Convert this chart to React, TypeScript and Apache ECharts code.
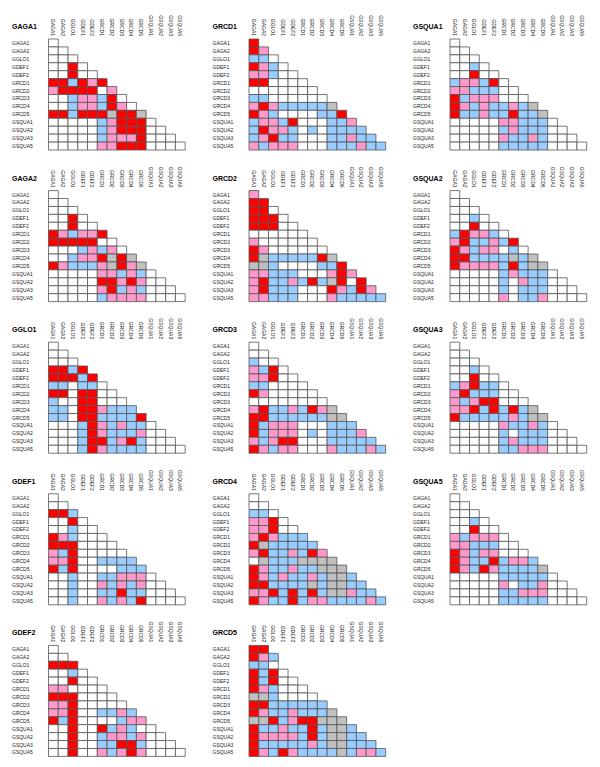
import React, { useEffect, useRef } from "react";
import * as echarts from "echarts";

// Gene labels (rows and columns of every triangle)
const genes = [
  "GAGA1", "GAGA2", "GGLO1", "GDEF1", "GDEF2", "GRCD1", "GRCD2",
  "GRCD3", "GRCD4", "GRCD5", "GSQUA1", "GSQUA2", "GSQUA3", "GSQUA5",
];

// Category codes: W = none, R = red, P = pink, B = blue, G = grey
const codes = ["W", "R", "P", "B", "G"];

// Each panel: one string per row, one character per cell (column 0..n)
const GAGA1 = ["W", "WW", "WWW", "WWRW", "WWRWW", "RRBRPR", "PRRRRWP", "WWBPPBRW", "WWBPPBRPW", "RRBRRRGRRG", "WWWWWBPRRRW", "WWWWWBPRRRWW", "WWWWWBPPPRWWW", "WWWWWPPRRRWWWW"];
const GRCD1 = ["R", "RP", "BBW", "RPBW", "PPBWW", "RRWWWW", "WWWWWWW", "BBWWWWWW", "PRPBBBBBG", "RPBWWWWBBR", "BPPBRWWWBBP", "BRPPBWBWBBBB", "BPRBBWWWBBPBB", "PBPPPWWWBBBPBB"];
const GSQUA1 = ["W", "WW", "WWW", "WWBW", "WWRWW", "BPPBRW", "PPBBBWW", "RBPPPWWW", "RPBPBBPBG", "RBBPBBRBBG", "WWWWWPPBBBW", "WWWWWBPBBBWW", "WWWWWPBBPBWWW", "WWWWWBBBBBWWWW"];
const GAGA2 = ["W", "WW", "WWW", "WWRW", "WWRWW", "RPBPPR", "RRRRRWW", "WWWBPBPW", "WWBPPRGRG", "RPBBBPGRPG", "WWWWWPPBPBW", "WWWWWRRPRPWW", "WWWWWPRBPBWWW", "WWWWWBPPPPWWWW"];
const GRCD2 = ["P", "RR", "RRW", "RRRW", "RRRWW", "WWWWWW", "PWWWWWW", "RPWWWWWW", "RGBBBBBRG", "GGBWWWWBBR", "PPBBBWWWPRP", "PRBBPBRBGRWR", "PRBBBWWWRPBRP", "PPBBBWWWPBBBBB"];
const GSQUA2 = ["W", "WW", "WWW", "WWBW", "WWRWW", "BRPPBW", "PRBBPBR", "RPBPPWBW", "RRBBBBGBG", "RPPPPBRBGG", "WWWWWBPBBBW", "WWWWWBWPBBWW", "WWWWWBWBBBWWW", "WWWWWPWBBPWWWW"];
const GGLO1 = ["W", "WW", "WWW", "RRBR", "RRRBR", "BBWBBW", "RRWRRWW", "BWWRRWWW", "BBWRRPBBB", "BBWRRBBBBR", "WWWBRPBPBBW", "WWWBRPBBBPWW", "WWWBRRBPRBWWW", "WWWBRPBBBBWWWW"];
const GRCD3 = ["W", "WW", "BWW", "PBRW", "PPRWW", "BBWWWW", "RPWWWWW", "WWWWWWWW", "PRBBPBRPG", "RRBBBBBBGG", "RBPPPWWWBBB", "RBPPPWBWBBBP", "PBPRRWWWBBBBB", "RPBPPWWWPBBBPB"];
const GSQUA3 = ["W", "WW", "WWW", "WWBW", "WWRWW", "BPRBBW", "PRBBBWW", "PBPRRWWW", "PPRBRBRBG", "RBBBBBPBGG", "WWWWWPBBPBW", "WWWWWBWBBBWW", "WWWWWBPBBBWWW", "WWWWWBBPPPWWWW"];
const GDEF1 = ["W", "WW", "RRB", "WWRW", "WWBWW", "RPBWWW", "RRRWWWW", "PBRWWWWW", "PPRWWBBBB", "RBRWWWWBBB", "WWBWWBBPPPW", "WWBWWPBPBPWW", "WWBWWBBRBBWWW", "WWBWWPBPBRWWWW"];
const GRCD4 = ["W", "WW", "BBW", "PPRW", "PPRWW", "PRPBBB", "RGBBBBB", "PRBBPBRP", "WGBBBGGGG", "RPBBPBBGGG", "RPBPBBPBGGB", "RRBBBBGBGGBB", "PPRBRBRBGGPBB", "RPBBRBPPBBBBPB"];
const GSQUA5 = ["W", "WW", "WWW", "WWBW", "WWRWW", "PBPPPW", "PPBBBWW", "RPBPPWWW", "RPBBRBPPB", "RPBRPBBBBG", "WWWWWBBBBBW", "WWWWWPWBBPWW", "WWWWWBBPPPWWW", "WWWWWBBBBBWWWW"];
const GDEF2 = ["W", "WW", "RRR", "WWBW", "WWRWW", "PPWWWW", "RRRWWWW", "PPRWWWWW", "PPRWWBBPB", "RBRWWWWBPP", "WWRWWRBPBWW", "WWRWWBPPBPWW", "WWRWWBBRRBWWW", "WWRWWPBPRPWWWW"];
const GRCD5 = ["RR", "RPB", "BBW", "RBRW", "RBRWW", "RPBWWW", "GGBWWWW", "RRBBBBBB", "RPBBPBBBG", "GGRBPRRGGG", "RBBPBBRBGGB", "RPPPPBRBGGBB", "RBBBBBPBGGBBB", "RPBRPBBBBGBPPB"];

// Panels in reading order: [title, rows, gridRow, gridCol]
const panels: [string, string[], number, number][] = [
  ["GAGA1", GAGA1, 0, 0], ["GRCD1", GRCD1, 0, 1], ["GSQUA1", GSQUA1, 0, 2],
  ["GAGA2", GAGA2, 1, 0], ["GRCD2", GRCD2, 1, 1], ["GSQUA2", GSQUA2, 1, 2],
  ["GGLO1", GGLO1, 2, 0], ["GRCD3", GRCD3, 2, 1], ["GSQUA3", GSQUA3, 2, 2],
  ["GDEF1", GDEF1, 3, 0], ["GRCD4", GRCD4, 3, 1], ["GSQUA5", GSQUA5, 3, 2],
  ["GDEF2", GDEF2, 4, 0], ["GRCD5", GRCD5, 4, 1],
];

const COLORS = ["#FFFFFF", "#FF0000", "#FF99CC", "#99CCFF", "#C0C0C0"];
const FONT = "'Liberation Sans', Arial, sans-serif";

function buildOption() {
  const gridLefts = [48.5, 249, 450];
  const gridW = 136.7;
  const gridH = 111;
  const rowTop = (r: number) => 39 + 151.6 * r;
  const titleLefts = [12, 212.5, 413];

  const grid: any[] = [];
  const xAxis: any[] = [];
  const yAxis: any[] = [];
  const series: any[] = [];
  const title: any[] = [];

  panels.forEach(([name, rows, gr, gc], i) => {
    grid.push({ left: gridLefts[gc], top: rowTop(gr), width: gridW, height: gridH, containLabel: false });
    xAxis.push({
      type: "category", gridIndex: i, data: genes, position: "top",
      axisLine: { show: false }, axisTick: { show: false }, splitLine: { show: false },
      axisLabel: { interval: 0, rotate: 90, margin: 3, fontSize: 5, color: "#222", fontFamily: FONT },
    });
    yAxis.push({
      type: "category", gridIndex: i, data: genes, inverse: true,
      axisLine: { show: false }, axisTick: { show: false }, splitLine: { show: false },
      axisLabel: { interval: 0, align: "left", margin: gridLefts[gc] - titleLefts[gc], fontSize: 5, color: "#222", fontFamily: FONT },
    });
    const data: number[][] = [];
    rows.forEach((row, r) => {
      for (let c = 0; c < row.length; c++) data.push([c, r, codes.indexOf(row[c])]);
    });
    series.push({
      type: "custom", coordinateSystem: "cartesian2d", xAxisIndex: i, yAxisIndex: i,
      data,
      renderItem: (_p: any, api: any) => {
        const p = api.coord([api.value(0), api.value(1)]);
        const s = api.size([1, 1]);
        return {
          type: "rect",
          shape: { x: p[0] - s[0] / 2, y: p[1] - s[1] / 2, width: s[0], height: s[1] },
          style: { fill: COLORS[api.value(2)], stroke: "#555", lineWidth: 0.8 },
        };
      },
    });
    title.push({
      text: name, left: titleLefts[gc], top: rowTop(gr) - 16, padding: 0,
      textStyle: { fontSize: 7, fontWeight: "bold", color: "#000", fontFamily: FONT },
    });
  });

  return { animation: false, backgroundColor: "#FFFFFF", title, grid, xAxis, yAxis, series };
}

export default function App() {
  const ref = useRef<HTMLDivElement>(null);
  useEffect(() => {
    if (!ref.current) return;
    const chart = echarts.init(ref.current, null, { renderer: "svg" });
    chart.setOption(buildOption() as any);
    return () => chart.dispose();
  }, []);
  return (
    <div
      ref={ref}
      style={{ position: "absolute", left: 0, top: 0, width: 600, height: 767, background: "#fff" }}
    />
  );
}
